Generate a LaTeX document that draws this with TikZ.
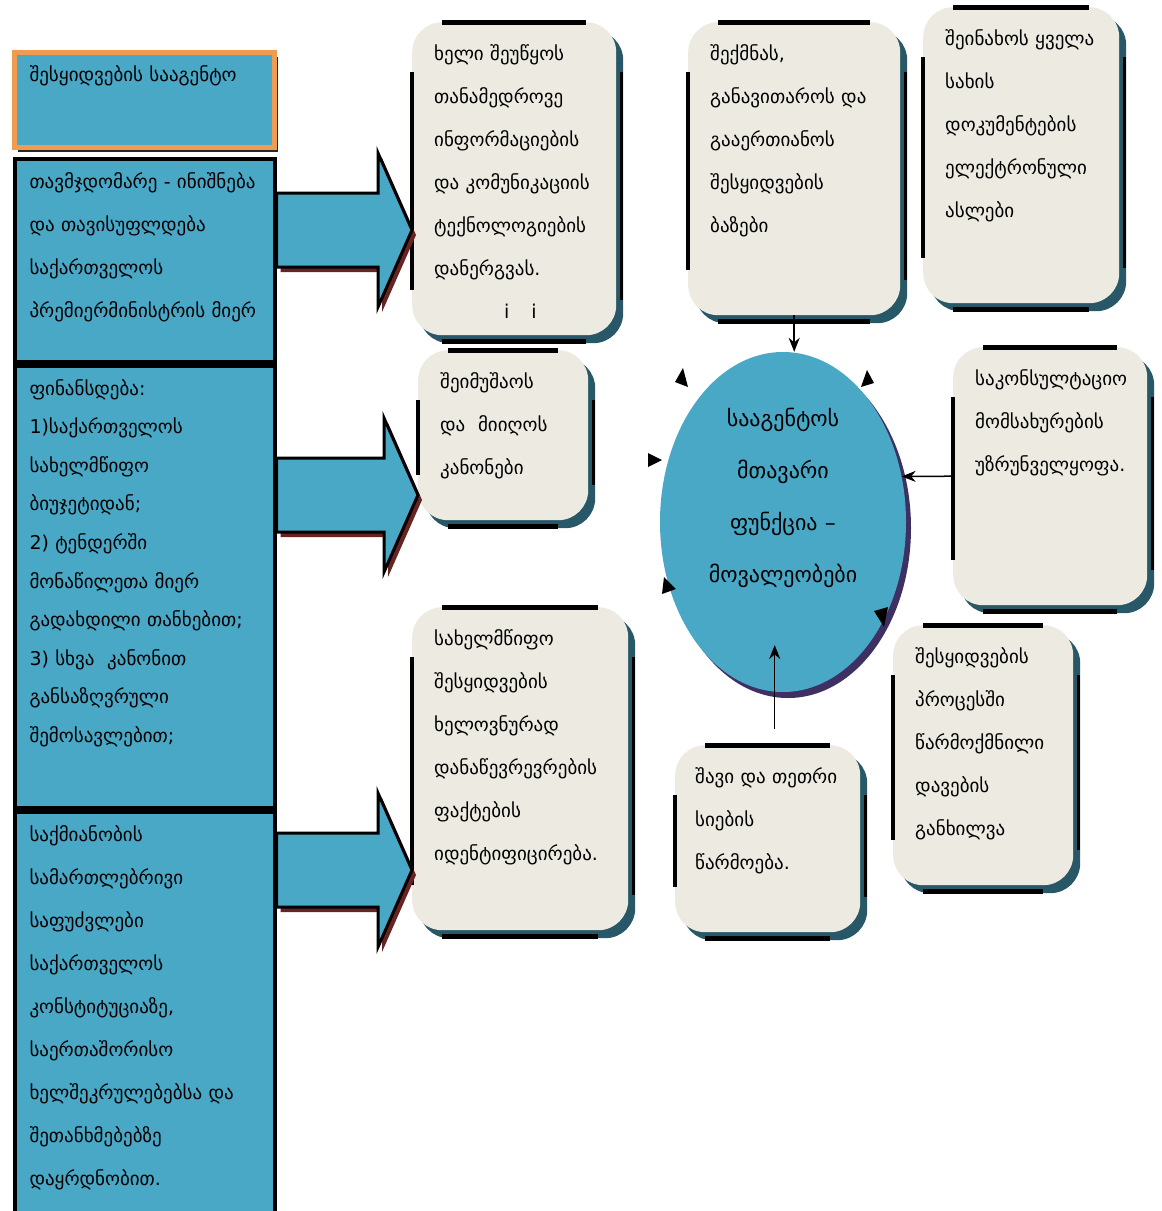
\documentclass[tikz,border=0pt]{standalone}
\usepackage{fontspec}
\setmainfont{DejaVu Sans}
\usetikzlibrary{positioning,shapes.geometric,shadows,calc,arrows.meta}

\definecolor{agencyblue}{RGB}{74,168,199}
\definecolor{cardfill}{RGB}{237,235,225}
\definecolor{cardshadow}{RGB}{40,88,104}
\definecolor{arrowshadow}{RGB}{105,35,35}
\definecolor{ringshadow}{RGB}{62,48,98}
\definecolor{titleorange}{RGB}{240,155,80}

\begin{document}
\begin{tikzpicture}[x=1pt,y=-1pt,
    column/.style={draw=black, line width=4pt, fill=agencyblue, align=left,
      text width=230pt, inner xsep=15pt, inner ysep=5pt, text height=24pt,
      font=\fontsize{19}{43}\selectfont},
    card/.style={fill=cardfill, rounded corners=30pt, anchor=north west, align=left,
      inner xsep=22pt, inner ysep=8pt, text height=30pt,
      font=\fontsize{19}{43}\selectfont,
      general shadow={fill=cardshadow, shadow xshift=7pt, shadow yshift=-8pt}},
    bar/.style={line width=5pt, black},
    sidebar/.style={line width=3.5pt, black},
    blockarrow/.style={draw=black, line width=3pt, fill=agencyblue, line join=miter,
      general shadow={fill=arrowshadow, shadow xshift=4pt, shadow yshift=-5pt}},
    link/.style={-{Stealth[length=14pt,width=11pt]}, line width=1.5pt},
    loosetip/.style={fill=black}]

    \path[use as bounding box, fill=white] (0,0) rectangle (1162,1211);

    % left column
    \node[column, draw=titleorange, line width=5pt, anchor=north west, text depth=61pt,
          general shadow={fill=black!85, shadow xshift=3pt, shadow yshift=-4pt}]
          (agency) at (12,50) {შესყიდვების სააგენტო};
    \node[column, below=7pt of agency, text depth=169pt] (chair)
          {თავმჯდომარე - ინიშნება\\და თავისუფლდება\\საქართველოს\\პრემიერმინისტრის მიერ};
    \node[column, below=0pt of chair, text depth=408pt, font=\fontsize{19}{38.6}\selectfont] (fund)
          {ფინანსდება:\\1)საქართველოს\\სახელმწიფო\\ბიუჯეტიდან;\\2) ტენდერში\\მონაწილეთა მიერ\\
           გადახდილი თანხებით;\\3) სხვა~ კანონით\\განსაზღვრული\\შემოსავლებით;};
    \node[column, below=0pt of fund, text depth=374pt] (legal)
          {საქმიანობის\\სამართლებრივი\\საფუძვლები\\საქართველოს\\კონსტიტუციაზე,\\
           საერთაშორისო\\ხელშეკრულებებსა და\\შეთანხმებებზე\\დაყრდნობით.};

    % tasks
    \node[card, text width=160pt, text depth=267pt] (ictbox) at (412,22)
          {ხელი შეუწყოს\\თანამედროვე\\ინფორმაციების\\და კომუნიკაციის\\ტექნოლოგიების\\დანერგვას.\\
           \hspace*{70pt}i\hspace{22pt}i};
    \node[card, text width=126pt, text depth=124pt] (lawbox) at (418,350)
          {შეიმუშაოს\\და~ მიიღოს\\კანონები};
    \node[card, text width=172pt, text depth=277pt] (fraudbox) at (412,607)
          {სახელმწიფო\\შესყიდვების\\ხელოვნურად\\დანაწევრევრების\\ფაქტების\\იდენტიფიცირება.};
    \node[card, text width=168pt, text depth=247pt] (basebox) at (688,22)
          {შექმნას,\\განავითაროს და\\გააერთიანოს\\შესყიდვების\\ბაზები};
    \node[card, text width=152pt, text depth=250pt] (copybox) at (923,7)
          {შეინახოს ყველა\\სახის\\დოკუმენტების\\ელექტრონული\\ასლები};
    \node[card, text width=150pt, text depth=212pt] (consultbox) at (953,347)
          {საკონსულტაციო\\მომსახურების\\უზრუნველყოფა.};
    \node[card, text width=136pt, text depth=214pt] (disputebox) at (893,625)
          {შესყიდვების\\პროცესში\\წარმოქმნილი\\დავების\\განხილვა};
    \node[card, inner xsep=20pt, text width=145pt, text depth=141pt] (listbox) at (675,745)
          {შავი და თეთრი\\სიების\\წარმოება.};

    \node[ellipse, fill=agencyblue, minimum width=246pt, minimum height=340pt, inner sep=0pt,
          text width=160pt, align=center, font=\fontsize{22}{52}\selectfont,
          text height=20pt, text depth=212pt,
          general shadow={fill=ringshadow, shadow xshift=5pt, shadow yshift=-6pt}]
          (func) at (783,522) {სააგენტოს\\მთავარი\\ფუნქცია –\\მოვალეობები};

    \foreach \c in {ictbox,lawbox,fraudbox,basebox,copybox,consultbox,disputebox,listbox}{
      \draw[bar] ([xshift=30pt]\c.north west) -- ([xshift=-30pt]\c.north east);
      \draw[bar] ([xshift=30pt,yshift=-6pt]\c.south west) -- ([xshift=-30pt,yshift=-6pt]\c.south east);
      \draw[sidebar] ([yshift=-50pt]\c.north west) -- ([yshift=45pt]\c.south west);
      \draw[sidebar] ([xshift=5pt,yshift=-50pt]\c.north east) -- ([xshift=5pt,yshift=35pt]\c.south east);
    }

    % block arrows
    \foreach \src/\dst/\yy in {chair/ictbox/230, fund/lawbox/495, legal/fraudbox/870}{
      \draw[blockarrow] ($(\src.east |- 0,\yy)+(0,-37)$) -- ($(\dst.west |- 0,\yy)+(-34,-37)$)
        -- ++(0,-40) -- (\dst.west |- 0,\yy) -- ++(-34,77) -- ++(0,-40)
        -- ($(\src.east |- 0,\yy)+(0,37)$) -- cycle;
    }

    \draw[link] (basebox.south) -- (basebox.south |- func.north);
    \draw[link] ([xshift=7pt,yshift=16pt]listbox.north) -- ++(0,-84);
    \draw[link] (consultbox.west) -- (func.21);

    % loose tips round the ring
    \fill[loosetip] (683,368) -- (675,382) -- (688,387) -- cycle;
    \fill[loosetip] (662,460) -- (648,453) -- (648,467) -- cycle;
    \fill[loosetip] (867,370) -- (861,387) -- (874,383) -- cycle;
    \fill[loosetip] (664,577) -- (662,594) -- (676,589) -- cycle;
    \fill[loosetip] (884,627) -- (874,611) -- (888,607) -- cycle;
\end{tikzpicture}
\end{document}
